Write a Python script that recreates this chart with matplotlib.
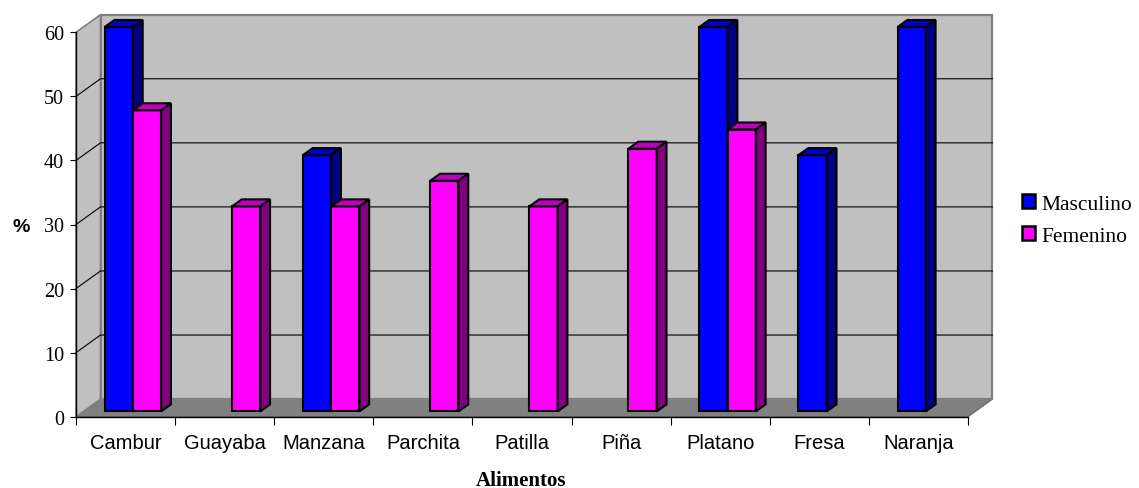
import numpy as np
import matplotlib
matplotlib.use('Agg')
import matplotlib.pyplot as plt
from matplotlib.patches import Polygon, Patch
from matplotlib.lines import Line2D
import matplotlib.transforms as mtransforms

# Data (percent)
alimentos = ['Cambur', 'Guayaba', 'Manzana', 'Parchita', 'Patilla', 'Piña',
             'Platano', 'Fresa', 'Naranja']
masculino = [60, 0, 40, 0, 0, 0, 60, 40, 60]
femenino = [47, 32, 32, 36, 32, 41, 44, 0, 0]
y_ticks = [0, 10, 20, 30, 40, 50, 60]

W, H = 1139, 489
fig = plt.figure(figsize=(W / 100, H / 100), dpi=100)
fig.patch.set_facecolor('white')

# front plane of the pseudo-3D box
ax = fig.add_axes([76 / W, (H - 417.7) / H, 892 / W, 384.4 / H])
ax.set_xlim(0, len(alimentos))
ax.set_ylim(0, 60)
ax.patch.set_visible(False)
for s in ['top', 'right']:
    ax.spines[s].set_visible(False)
for s in ['left', 'bottom']:
    ax.spines[s].set_color('black')
    ax.spines[s].set_linewidth(1.0)
    ax.spines[s].set_zorder(5)

ax.set_yticks(y_ticks)
ax.set_yticklabels([str(v) for v in y_ticks], fontfamily='Liberation Serif', fontsize=14.5)
ax.tick_params(axis='y', direction='out', length=4.5, width=0.8, pad=4, colors='black')
ax.set_xticks(np.arange(len(alimentos) + 1))
ax.set_xticklabels([])
ax.tick_params(axis='x', which='major', direction='out', length=5.5, width=0.8)
ax.set_xticks(np.arange(len(alimentos)) + 0.5, minor=True)
ax.set_xticklabels(alimentos, minor=True, fontfamily='Liberation Sans', fontsize=14.5)
ax.tick_params(axis='x', which='minor', length=0, pad=12)

# depth direction in pixels
DX, DY = 24.5, 17.6
ident = mtransforms.IdentityTransform()


def proj(x, v, f):
    p = ax.transData.transform((x, v))
    return (p[0] + f * DX, p[1] + f * DY)


def poly(pts, fc, ec, lw, z):
    ax.add_patch(Polygon(pts, closed=True, facecolor=fc, edgecolor=ec, linewidth=lw,
                         transform=ident, clip_on=False, zorder=z, joinstyle='miter'))


n = len(alimentos)
ymax = y_ticks[-1]
# floor, side wall, back wall
poly([proj(0, 0, 0), proj(n, 0, 0), proj(n, 0, 1), proj(0, 0, 1)], '#808080', '#606060', 0.8, 1)
poly([proj(0, 0, 0), proj(0, 0, 1), proj(0, ymax, 1), proj(0, ymax, 0)], '#C0C0C0', '#808080', 1.2, 1)
poly([proj(0, 0, 1), proj(n, 0, 1), proj(n, ymax, 1), proj(0, ymax, 1)], '#C0C0C0', '#808080', 1.6, 1)

# gridlines on side and back walls
for v in y_ticks[1:-1]:
    pts = np.array([proj(0, v, 0), proj(0, v, 1), proj(n, v, 1)])
    ax.add_line(Line2D(pts[:, 0], pts[:, 1], color='black', linewidth=0.8,
                       transform=ident, clip_on=False, zorder=2))

# 3D columns
bw = 0.285
f0, f1 = 0.3, 0.7
styles = [('#0000FF', '#0000C0', '#000080'), ('#FF00FF', '#C000C0', '#800080')]
for i in range(n):
    for s, vals in enumerate([masculino, femenino]):
        v = vals[i]
        if v == 0:
            continue
        x0 = i + 0.5 - bw + s * bw
        x1 = x0 + bw
        front, top, side = styles[s]
        z = 3 + i * 0.1 + s * 0.05
        poly([proj(x0, 0, f0), proj(x1, 0, f0), proj(x1, v, f0), proj(x0, v, f0)], front, 'black', 1.5, z)
        poly([proj(x0, v, f0), proj(x1, v, f0), proj(x1, v, f1), proj(x0, v, f1)], top, 'black', 1.5, z)
        poly([proj(x1, 0, f0), proj(x1, 0, f1), proj(x1, v, f1), proj(x1, v, f0)], side, 'black', 1.5, z)

# axis titles
fig.text(21 / W, 1 - 228 / H, '%', fontfamily='Liberation Sans', fontweight='bold',
         fontsize=14, ha='center', va='center')
fig.text(521 / W, 1 - 481 / H, 'Alimentos', fontfamily='Liberation Serif', fontweight='bold',
         fontsize=15, ha='center', va='center')

handles = [Patch(facecolor='#0000FF', edgecolor='black', linewidth=1.8, label='Masculino'),
           Patch(facecolor='#FF00FF', edgecolor='black', linewidth=1.8, label='Femenino')]
fig.legend(handles=handles, loc='center left', bbox_to_anchor=(1022 / W, 1 - 221 / H),
           frameon=False, prop={'family': 'Liberation Serif', 'size': 15.5},
           handlelength=0.62, handleheight=0.62, handletextpad=0.3, labelspacing=0.6,
           borderpad=0, borderaxespad=0)

fig.savefig('out.png', dpi=100)
